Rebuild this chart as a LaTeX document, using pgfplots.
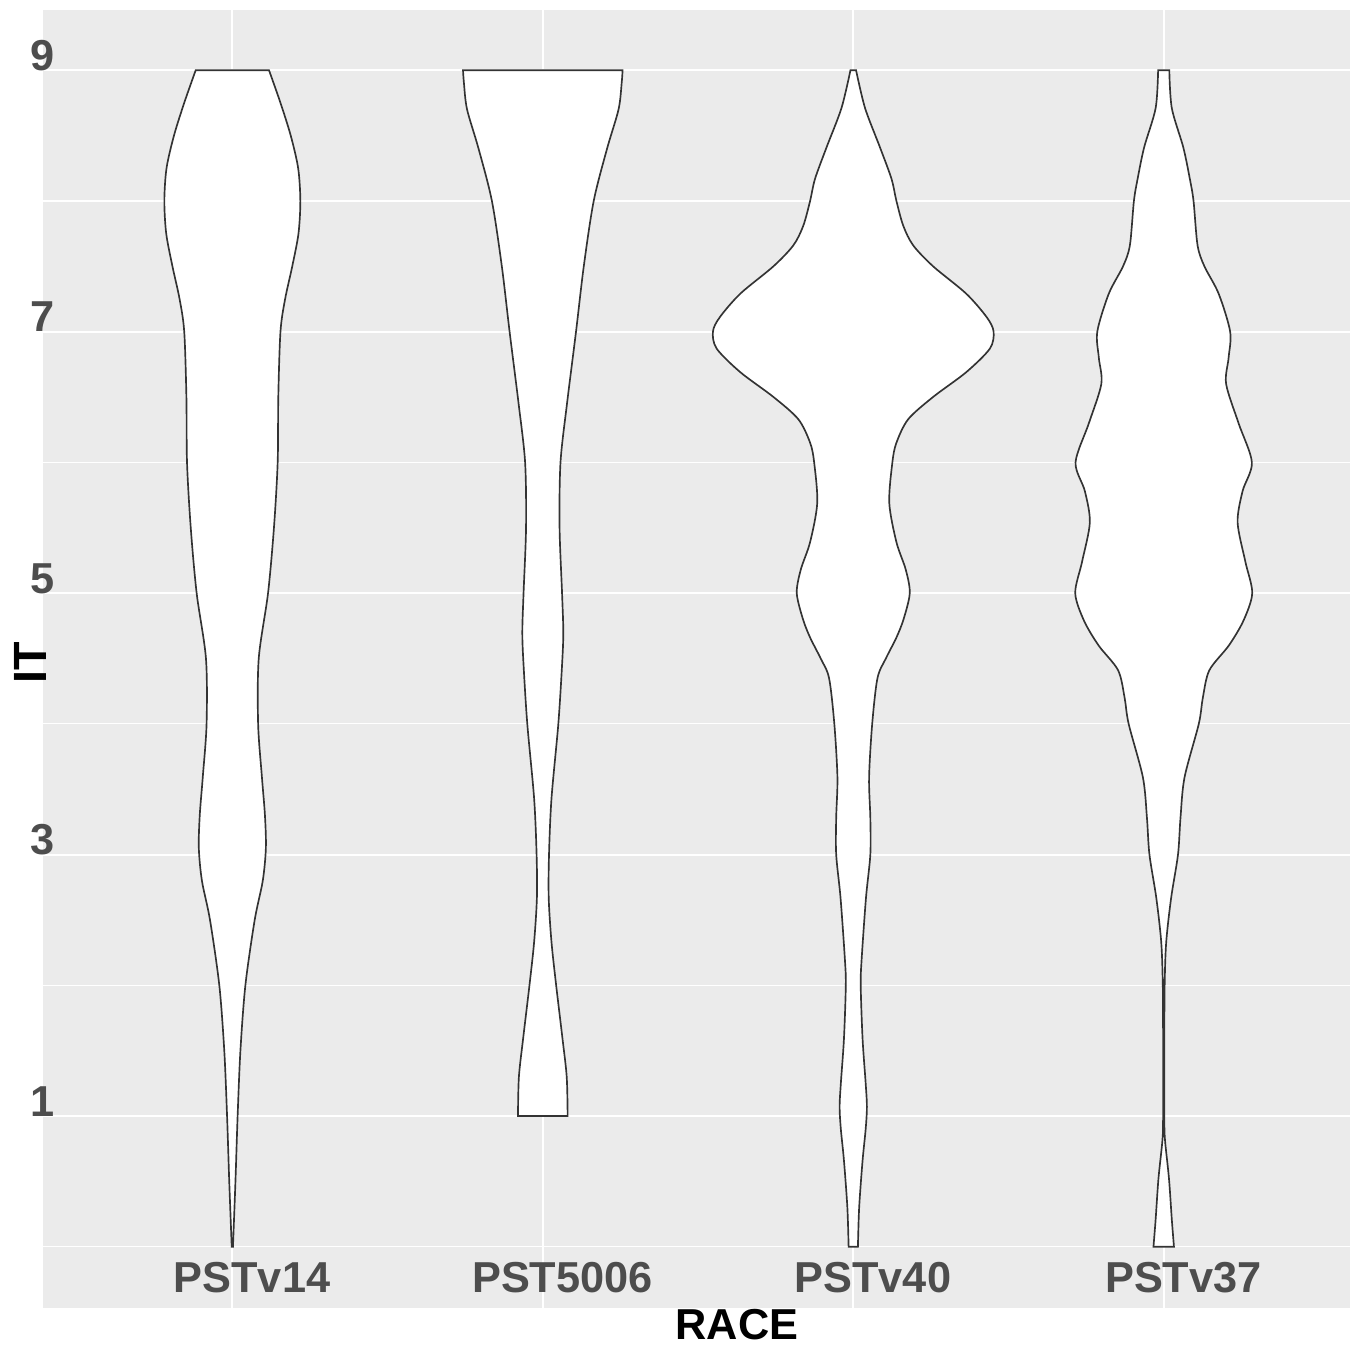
\documentclass[border=0pt]{standalone}
\usepackage{fontspec}
\setmainfont{Liberation Sans}
\usepackage{pgfplots}
\usepackage{pgfplotstable}
\pgfplotsset{compat=1.18}
\usepgfplotslibrary{fillbetween}
\definecolor{panel}{HTML}{EBEBEB}
\definecolor{tickgrey}{HTML}{4D4D4D}
\definecolor{outline}{HTML}{333333}

% violin half-widths (w, in category units) against IT value y
\pgfplotstableread{
y w
0 0.002
0.5 0.010
1.0 0.017
1.5 0.026
2.0 0.042
2.5 0.072
2.8 0.098
3.05 0.108
3.3 0.105
3.6 0.095
4.0 0.083
4.5 0.085
5.0 0.115
5.5 0.134
6.0 0.146
6.5 0.148
7.0 0.155
7.25 0.170
7.5 0.193
7.75 0.213
8.0 0.219
8.25 0.212
8.5 0.188
8.75 0.155
9.0 0.118
}\vA

\pgfplotstableread{
y w
1.0 0.080
1.3 0.077
1.6 0.063
2.0 0.043
2.33 0.028
2.67 0.019
3.0 0.020
3.43 0.028
4.0 0.050
4.45 0.062
4.7 0.066
5.0 0.062
5.5 0.054
6.0 0.057
6.45 0.078
7.0 0.107
7.5 0.132
8.0 0.164
8.4 0.207
8.7 0.244
8.9 0.254
9.0 0.257
}\vB

\pgfplotstableread{
y w
0 0.015
0.3 0.019
0.66 0.030
0.9 0.040
1.07 0.044
1.25 0.040
1.59 0.030
2.0 0.024
2.2 0.027
2.67 0.041
3.0 0.055
3.28 0.055
3.59 0.051
4.0 0.061
4.35 0.078
4.5 0.105
4.66 0.139
4.8 0.162
5.0 0.182
5.18 0.169
5.39 0.139
5.69 0.116
6.0 0.126
6.15 0.139
6.33 0.177
6.5 0.257
6.69 0.364
6.87 0.440
7.0 0.452
7.11 0.430
7.29 0.364
7.5 0.257
7.66 0.193
7.81 0.161
8.0 0.139
8.17 0.123
8.41 0.086
8.71 0.038
9.0 0.009
}\vC

\pgfplotstableread{
y w
0 0.033
0.21 0.026
0.52 0.017
0.82 0.004
1.0 0.002
1.59 0.002
2.0 0.003
2.33 0.008
2.67 0.024
3.0 0.046
3.28 0.054
3.59 0.067
4.0 0.113
4.2 0.126
4.41 0.147
4.6 0.210
4.79 0.257
5.0 0.285
5.24 0.263
5.54 0.238
5.78 0.254
6.0 0.284
6.3 0.241
6.6 0.201
6.8 0.209
7.0 0.214
7.29 0.177
7.5 0.131
7.66 0.109
8.0 0.096
8.17 0.084
8.41 0.063
8.71 0.026
9.0 0.018
}\vD

\begin{document}
\begin{tikzpicture}
\begin{axis}[
  at={(0pt,0pt)}, anchor=south west,
  scale only axis, width=392.4pt, height=389.7pt,
  xmin=0.39, xmax=4.6, ymin=-0.466, ymax=9.463,
  axis background/.style={fill=panel},
  axis line style={draw=none},
  major tick length=0pt, minor tick length=0pt,
  xtick={1,2,3,4}, xticklabels={PSTv14,PST5006,PSTv40,PSTv37},
  ytick={1,3,5,7,9}, yticklabels={1,3,5,7,9},
  minor ytick={0,2,4,6,8},
  xmajorgrids, ymajorgrids, yminorgrids,
  major grid style={white, line width=0.6pt},
  minor grid style={white, line width=0.4pt},
  xticklabel style={font=\bfseries\fontsize{13}{13}\selectfont, text=tickgrey,
    anchor=base, inner sep=0pt, yshift=4.5pt, xshift=5.9pt},
  yticklabel style={font=\bfseries\fontsize{13}{13}\selectfont, text=tickgrey,
    anchor=base east, inner sep=0pt, xshift=3.6pt},
  xlabel={RACE}, ylabel={IT},
  xlabel style={font=\bfseries\fontsize{13}{13}\selectfont, at={(axis description cs:0.531,0)},
    anchor=north, inner sep=0pt, yshift=-0.2pt},
  ylabel style={font=\bfseries\fontsize{14}{14}\selectfont, at={(axis description cs:-0.0099,0.4965)},
    anchor=center, inner sep=0pt},
  clip=false,
]
% PSTv14
\addplot[draw=none, smooth, name path=a1] table[x expr=1+\thisrow{w}, y=y] {\vA};
\addplot[draw=none, smooth, name path=a2] table[x expr=1-\thisrow{w}, y=y] {\vA};
\addplot[fill=white, draw=outline, line width=0.5pt] fill between[of=a1 and a2, reverse=true];
% PST5006
\addplot[draw=none, smooth, name path=b1] table[x expr=2+\thisrow{w}, y=y] {\vB};
\addplot[draw=none, smooth, name path=b2] table[x expr=2-\thisrow{w}, y=y] {\vB};
\addplot[fill=white, draw=outline, line width=0.5pt] fill between[of=b1 and b2, reverse=true];
% PSTv40
\addplot[draw=none, smooth, name path=c1] table[x expr=3+\thisrow{w}, y=y] {\vC};
\addplot[draw=none, smooth, name path=c2] table[x expr=3-\thisrow{w}, y=y] {\vC};
\addplot[fill=white, draw=outline, line width=0.5pt] fill between[of=c1 and c2, reverse=true];
% PSTv37
\addplot[draw=none, smooth, name path=d1] table[x expr=4+\thisrow{w}, y=y] {\vD};
\addplot[draw=none, smooth, name path=d2] table[x expr=4-\thisrow{w}, y=y] {\vD};
\addplot[fill=white, draw=outline, line width=0.5pt] fill between[of=d1 and d2, reverse=true];
\end{axis}
\path (-12.9pt,-11.4pt) rectangle (392.4pt,392.6pt);
\end{tikzpicture}
\end{document}
